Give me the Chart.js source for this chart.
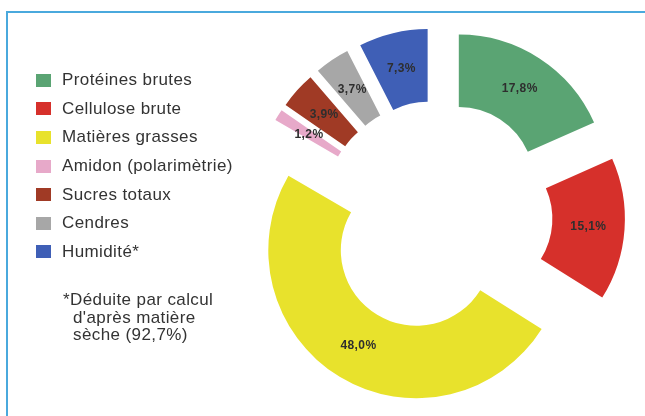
<!DOCTYPE html>
<html lang="fr">
<head>
    <meta charset="utf-8"/>
    <script src="https://cdn.jsdelivr.net/npm/chart.js@4.4.0/dist/chart.umd.min.js"></script>
    <style>
        body { margin: 0; background: #fff; font-family: "Liberation Sans", Arial, sans-serif; color: #333; }
        #wrap { position: relative; width: 645px; height: 416px; overflow: hidden; }
        #frame { position: absolute; left: 6px; top: 11px; right: -4px; bottom: -4px;
                 border-top: 2px solid #4aa9dd; border-left: 2px solid #4aa9dd; }
        #chart { position: absolute; left: 0; top: 0; }
        #legend { position: absolute; left: 36px; top: 66px; }
        .item { display: flex; align-items: center; height: 28.6px; font-size: 17px; letter-spacing: 0.4px; }
        .box { width: 15px; height: 13px; margin-right: 11px; }
        #note { position: absolute; left: 73px; top: 291px; font-size: 17px; line-height: 17.5px;
                letter-spacing: 0.4px; text-indent: -10px; }
    </style>
</head>
<body>
<div id="wrap">
    <div id="frame"></div>
    <canvas id="chart" width="645" height="416"></canvas>
    <div id="legend"></div>
    <div id="note">*Déduite par calcul<br>d'après matière<br>sèche (92,7%)</div>
</div>
<script>
    // composition (%)
    const categories = ['Protéines brutes', 'Cellulose brute', 'Matières grasses', 'Amidon (polarimètrie)',
                        'Sucres totaux', 'Cendres', 'Humidité*'];
    const values = [17.8, 15.1, 48.0, 1.2, 3.9, 3.7, 7.3];
    const valueLabels = ['17,8%', '15,1%', '48,0%', '1,2%', '3,9%', '3,7%', '7,3%'];
    const colors = ['#5aa473', '#d6302b', '#e8e22c', '#e7a9c9', '#a03a25', '#a7a7a7', '#3f5fb6'];
    const explode = 40; // px, every slice pulled out from the centre

    // html legend
    const legend = document.getElementById('legend');
    categories.forEach(function (name, i) {
        const row = document.createElement('div');
        row.className = 'item';
        row.innerHTML = '<span class="box" style="background:' + colors[i] + '"></span>' + name;
        legend.appendChild(row);
    });

    // chart.js "offset" also trims small arcs, so move each arc's own centre instead
    const explodeSlices = {
        id: 'explodeSlices',
        beforeDatasetsDraw(chart) {
            const area = chart.chartArea;
            const cx = (area.left + area.right) / 2;
            const cy = (area.top + area.bottom) / 2;
            chart.getDatasetMeta(0).data.forEach(function (arc) {
                const mid = (arc.startAngle + arc.endAngle) / 2;
                arc.x = cx + Math.cos(mid) * explode;
                arc.y = cy + Math.sin(mid) * explode;
            });
        }
    };

    const sliceLabels = {
        id: 'sliceLabels',
        afterDatasetsDraw(chart) {
            const ctx = chart.ctx;
            ctx.save();
            ctx.font = 'bold 12px "Liberation Sans", Arial, sans-serif';
            ctx.letterSpacing = '0.4px';
            ctx.fillStyle = '#2e2e2e';
            ctx.textAlign = 'center';
            ctx.textBaseline = 'middle';
            chart.getDatasetMeta(0).data.forEach(function (arc, i) {
                const mid = (arc.startAngle + arc.endAngle) / 2;
                const r = (arc.innerRadius + arc.outerRadius) / 2;
                ctx.fillText(valueLabels[i], arc.x + Math.cos(mid) * r, arc.y + Math.sin(mid) * r);
            });
            ctx.restore();
        }
    };

    new Chart(document.getElementById('chart'), {
        type: 'doughnut',
        data: {
            labels: categories,
            datasets: [{
                data: values,
                backgroundColor: colors,
                borderWidth: 0
            }]
        },
        options: {
            responsive: false,
            animation: false,
            events: [],
            radius: 148,
            cutout: '51%',
            layout: { padding: { left: 229, top: 16 } },
            plugins: {
                legend: { display: false },
                tooltip: { enabled: false }
            }
        },
        plugins: [explodeSlices, sliceLabels]
    });
</script>
</body>
</html>
